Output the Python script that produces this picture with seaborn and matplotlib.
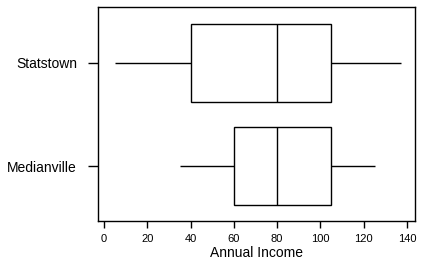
import matplotlib
matplotlib.use("Agg")
import matplotlib.pyplot as plt
import seaborn as sns
import pandas as pd

towns = ["Statstown", "Medianville"]
# five-number summaries: min, Q1, median, Q3, max
statstown = [5, 40, 80, 105, 137]
medianville = [35, 60, 80, 105, 125]
xticks = [0, 20, 40, 60, 80, 100, 120, 140]

df = pd.DataFrame({
    "town": [towns[0]] * len(statstown) + [towns[1]] * len(medianville),
    "income": statstown + medianville,
})

sns.set_style("ticks")
plt.rcParams["font.family"] = ["Liberation Sans", "DejaVu Sans"]
plt.rcParams["text.color"] = "black"
plt.rcParams["axes.labelcolor"] = "black"
plt.rcParams["xtick.color"] = "black"
plt.rcParams["ytick.color"] = "black"

fig = plt.figure(figsize=(4.22, 2.68), dpi=100)
ax = fig.add_axes([0.232, 0.175, 0.751, 0.799])

sns.boxplot(data=df, x="income", y="town", order=towns, orient="h",
            whis=(0, 100), width=0.75, color="white", linecolor="black",
            linewidth=1, showcaps=False, showfliers=False, ax=ax)

ax.set_xlim(-2.8, 143.6)
ax.set_ylim(1.53, -0.54)
ax.set_xticks(xticks)
ax.set_xticklabels([str(t) for t in xticks], fontsize=8)
ax.tick_params(axis="y", labelsize=10, length=7, width=1, pad=8,
               color="black", labelcolor="black")
ax.tick_params(axis="x", length=5, width=1, pad=4,
               color="black", labelcolor="black")
ax.set_xlabel("Annual Income", fontsize=10, labelpad=2, color="black")
ax.set_ylabel("")
for s in ax.spines.values():
    s.set_visible(True)
    s.set_color("black")
    s.set_linewidth(1.0)

fig.savefig("out.png", dpi=100, facecolor="white")
